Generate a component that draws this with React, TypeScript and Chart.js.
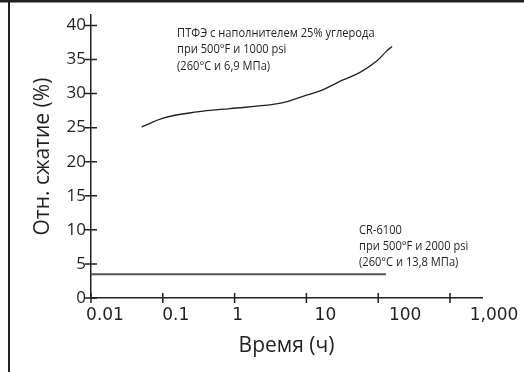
import React, { useEffect, useRef } from 'react';
import { Chart, registerables } from 'chart.js';

Chart.register(...registerables);

// ---- data ----
const ptfeHours = [0.0508, 0.1007, 0.299, 0.863, 3.43, 5.37, 8.97, 15.5, 32.4, 55.8, 96.2, 133, 156];
const ptfeValues = [25.1, 26.4, 27.3, 27.8, 28.4, 28.8, 29.6, 30.4, 32.0, 33.1, 34.8, 36.3, 36.9];
const crHours = [0.01, 128];
const crValues = [3.5, 3.5];
const xTickValues = [0.01, 0.1, 1, 10, 100, 1000];
const xTickLabels = ['0.01', '0.1', '1', '10', '100', '1,000'];
const yTickValues = [0, 5, 10, 15, 20, 25, 30, 35, 40];
const ptfeNote = ['ПТФЭ с наполнителем 25% углерода', 'при 500°F и 1000 psi', '(260°C и 6,9 МПа)'];
const crNote = ['CR-6100', 'при 500°F и 2000 psi', '(260°C и 13,8 МПа)'];
const yTitle = 'Отн. сжатие (%)';
const xTitle = 'Время (ч)';

// ---- styling / placement ----
const INK = '#231f20';
const xLabelShift = [14, 13, 3, 19, 27, 44];
const ptfeNoteAt = { x: 0.158, y: 38.8 };
const crNoteAt = { x: 54, y: 9.95 };

const decor = {
  id: 'decor',
  beforeDraw(chart: any) {
    const ctx = chart.ctx;
    ctx.save();
    ctx.fillStyle = INK;
    ctx.fillRect(0, 0, chart.width, 2.5);
    ctx.fillRect(8, 0, 2, chart.height);
    ctx.restore();
  },
  afterDraw(chart: any) {
    const ctx = chart.ctx;
    const xs = chart.scales.x;
    const ys = chart.scales.y;
    const y0 = ys.getPixelForValue(0);
    const x0 = xs.getPixelForValue(xTickValues[0]);
    ctx.save();
    ctx.strokeStyle = INK;
    ctx.lineWidth = 1.5;
    ctx.beginPath();
    xTickValues.forEach((v) => {
      const px = xs.getPixelForValue(v);
      ctx.moveTo(px, y0 - 5);
      ctx.lineTo(px, y0 + 5);
    });
    yTickValues.forEach((v) => {
      const py = ys.getPixelForValue(v);
      ctx.moveTo(x0 - 6, py);
      ctx.lineTo(x0 + 6, py);
    });
    ctx.stroke();

    ctx.fillStyle = INK;
    ctx.font = '17px "DejaVu Sans"';
    ctx.textAlign = 'center';
    ctx.textBaseline = 'middle';
    xTickValues.forEach((v, i) => {
      ctx.fillText(xTickLabels[i], xs.getPixelForValue(v) + xLabelShift[i], y0 + 18);
    });

    ctx.font = '12.5px "Open Sans"';
    ctx.textAlign = 'left';
    const drawNote = (lines: string[], at: { x: number; y: number }) => {
      const px = xs.getPixelForValue(at.x);
      const py = ys.getPixelForValue(at.y);
      lines.forEach((t, i) => {
        const w = ctx.measureText(t).width * 0.89;
        ctx.fillText(t, px, py + i * 16.3, w);
      });
    };
    drawNote(ptfeNote, ptfeNoteAt);
    drawNote(crNote, crNoteAt);
    ctx.restore();
  },
};

export default function App() {
  const ref = useRef<HTMLCanvasElement | null>(null);
  useEffect(() => {
    if (!ref.current) return;
    const chart = new Chart(ref.current, {
      type: 'line',
      data: {
        datasets: [
          {
            label: 'ПТФЭ',
            data: ptfeHours.map((h, i) => ({ x: h, y: ptfeValues[i] })),
            borderColor: INK,
            borderWidth: 1.3,
            pointRadius: 0,
            cubicInterpolationMode: 'monotone',
            fill: false,
          },
          {
            label: 'CR-6100',
            data: crHours.map((h, i) => ({ x: h, y: crValues[i] })),
            borderColor: '#555555',
            borderWidth: 2,
            pointRadius: 0,
            fill: false,
          },
        ],
      },
      options: {
        animation: false,
        responsive: false,
        maintainAspectRatio: false,
        layout: { padding: { top: 15, right: 42, left: 0, bottom: 0 } },
        plugins: { legend: { display: false }, tooltip: { enabled: false } },
        scales: {
          x: {
            type: 'logarithmic',
            min: 0.01,
            max: 2790,
            afterBuildTicks: (s: any) => {
              s.ticks = xTickValues.map((v) => ({ value: v }));
            },
            afterFit: (s: any) => {
              s.height = 74;
            },
            grid: { display: true, drawOnChartArea: false, drawTicks: false },
            border: { display: true, color: INK, width: 1.5 },
            ticks: { display: false },
            title: {
              display: true,
              text: xTitle,
              color: INK,
              font: { family: '"Open Sans"', size: 21 },
              padding: { top: 0, bottom: 13 },
            },
          },
          y: {
            type: 'linear',
            min: 0,
            max: 41.5,
            afterBuildTicks: (s: any) => {
              s.ticks = yTickValues.map((v) => ({ value: v }));
            },
            afterFit: (s: any) => {
              s.width = 91;
            },
            grid: { display: true, drawOnChartArea: false, drawTicks: false },
            border: { display: true, color: INK, width: 1.5 },
            ticks: {
              color: INK,
              padding: 5,
              font: { family: '"Open Sans"', size: 17 },
            },
            title: {
              display: true,
              text: yTitle,
              color: INK,
              font: { family: '"Open Sans"', size: 21 },
              padding: { top: 30, bottom: 0 },
            },
          },
        },
      },
      plugins: [decor],
    } as any);
    return () => chart.destroy();
  }, []);
  return (
    <div style={{ position: 'fixed', left: 0, top: 0, width: 524, height: 372, background: '#fff' }}>
      <canvas ref={ref} width={524} height={372} style={{ width: 524, height: 372, display: 'block' }} />
    </div>
  );
}
